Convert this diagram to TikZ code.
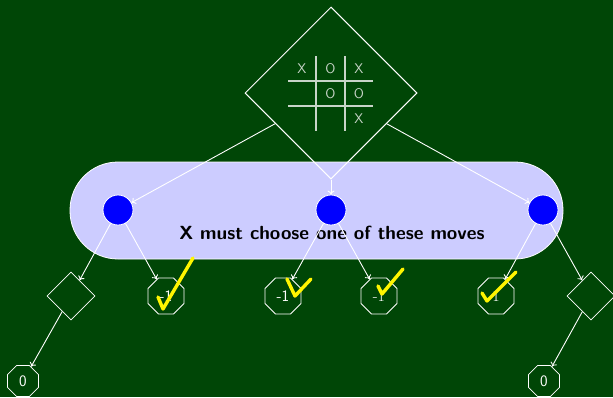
\documentclass[tikz,border=0pt]{standalone}
\usetikzlibrary{shapes.geometric,arrows.meta}
\definecolor{bg}{RGB}{0,70,6}
\definecolor{bandc}{RGB}{204,204,255}
\definecolor{gridc}{RGB}{200,212,200}
\definecolor{checkc}{RGB}{255,245,0}
\begin{document}
\begin{tikzpicture}[x=1pt,y=-1pt,
  rootd/.style={diamond, draw=white, line width=1pt, minimum size=172pt, inner sep=0pt},
  move/.style={circle, fill=blue, draw=white, line width=0.8pt, minimum size=30pt, inner sep=0pt},
  band/.style={rectangle, rounded corners=48pt, fill=bandc, draw=white, line width=0.8pt, minimum width=493pt, minimum height=97pt, inner sep=0pt},
  oct/.style={regular polygon, regular polygon sides=8, draw=white, line width=0.8pt, text=white, minimum size=39pt, inner sep=0pt, font=\sffamily\fontsize{16}{16}\selectfont},
  octz/.style={oct, minimum size=33.5pt},
  ldia/.style={diamond, draw=white, line width=0.8pt, minimum size=48pt, inner sep=0pt},
  edge/.style={draw=white, line width=0.9pt, -{To[length=4pt,width=7pt]}},
  gridline/.style={draw=gridc, line width=1.2pt},
  cell/.style={text=gridc, font=\sffamily\fontsize{14}{14}\selectfont, inner sep=0pt},
  checkmk/.style={draw=checkc, line width=3.4pt, line cap=round, line join=round},
  msgstyle/.style={text=black, font=\sffamily\bfseries\fontsize{19}{21}\selectfont, inner sep=0pt}
]
\fill[bg] (0,0) rectangle (613,397);
\useasboundingbox (0,0) rectangle (613,397);

% band
\node[band] (band) at (316.5,210.5) {};
\node[msgstyle] (msg) at (332,233) {X must choose one of these moves};

% root
\node[rootd] (root) at (331,93) {};
\coordinate (v1t) at (316,56); \coordinate (v1b) at (316,131);
\coordinate (v2t) at (345,56); \coordinate (v2b) at (345,131);
\coordinate (h1l) at (288,81); \coordinate (h1r) at (373,81);
\coordinate (h2l) at (288,106); \coordinate (h2r) at (373,106);
\draw[gridline] (v1t) -- (v1b);
\draw[gridline] (v2t) -- (v2b);
\draw[gridline] (h1l) -- (h1r);
\draw[gridline] (h2l) -- (h2r);
\node[cell] (a11) at (302,69) {X};
\node[cell] (a12) at (330.5,69) {O};
\node[cell] (a13) at (359,69) {X};
\node[cell] (a22) at (330.5,93.5) {O};
\node[cell] (a23) at (359,93.5) {O};
\node[cell] (a33) at (359,119) {X};

% moves
\node[move] (c1) at (118,210) {};
\node[move] (c2) at (331,210) {};
\node[move] (c3) at (543,210) {};

% leaves
\node[ldia] (d1) at (71,296) {};
\node[oct] (l1) at (166,296) {-1};
\node[oct] (l2) at (283,296) {-1};
\node[oct, font=\rmfamily\fontsize{16}{16}\selectfont] (l3) at (379,296) {-1};
\node[oct, font=\rmfamily\fontsize{16}{16}\selectfont] (l4) at (496,296) {1};
\node[ldia] (d2) at (591,296) {};
\node[octz] (z1) at (23,381) {0};
\node[octz] (z2) at (544,381) {0};

% edges
\draw[edge] (root) -- (c1);
\draw[edge] (root) -- (c2);
\draw[edge] (root) -- (c3);
\draw[edge] (c1) -- (d1);
\draw[edge] (c1) -- (l1);
\draw[edge] (c2) -- (l2);
\draw[edge] (c2) -- (l3);
\draw[edge] (c3) -- (l4);
\draw[edge] (c3) -- (d2);
\draw[edge] (d1) -- (z1);
\draw[edge] (d2) -- (z2);

% check marks
\draw[checkmk] (158,297) -- (163,309) -- (193,258);
\draw[checkmk] (287,279) -- (295,296) -- (311,279);
\draw[checkmk] (378,286) -- (382,294) -- (403,269);
\draw[checkmk] (482,293) -- (487,301) -- (516,272);
\end{tikzpicture}
\end{document}
